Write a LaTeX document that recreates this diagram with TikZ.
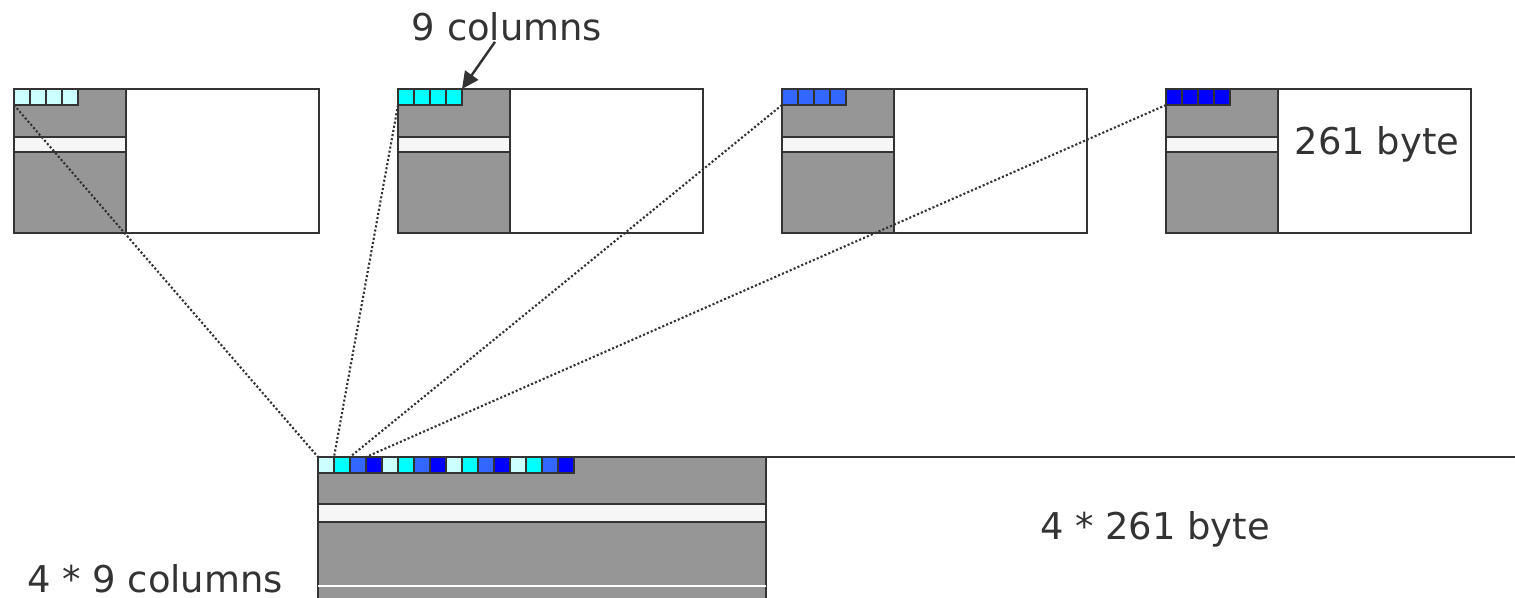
\documentclass[tikz,border=0pt]{standalone}
\usepackage{fontspec}
\setmainfont{DejaVu Sans}
\usetikzlibrary{positioning, arrows.meta}
\definecolor{lineGray}{RGB}{51, 51, 51}
\definecolor{keyGray}{RGB}{150, 150, 150}
\definecolor{stripeGray}{RGB}{246, 246, 246}
\definecolor{colA}{RGB}{204, 255, 255}
\definecolor{colB}{RGB}{0, 255, 255}
\definecolor{colC}{RGB}{51, 102, 255}
\definecolor{colD}{RGB}{0, 0, 255}

\begin{document}
\begin{tikzpicture}[
    x=0.02cm, y=-0.02cm,
    key/.style={rectangle, draw=lineGray, line width=1.4pt, fill=keyGray, minimum width=2.24cm, minimum height=2.88cm, inner sep=0pt, outer sep=0pt, anchor=north west},
    payload/.style={rectangle, draw=lineGray, line width=1.4pt, fill=white, minimum width=3.86cm, minimum height=2.88cm, inner sep=0pt, outer sep=0pt, anchor=north west},
    stripe/.style={rectangle, draw=lineGray, line width=1.4pt, fill=stripeGray, minimum width=2.24cm, minimum height=0.3cm, inner sep=0pt, outer sep=0pt, anchor=north west},
    cell/.style={rectangle, draw=lineGray, line width=1.4pt, minimum size=0.32cm, inner sep=0pt, outer sep=0pt, anchor=north west},
    txt/.style={font=\fontsize{21}{25}\selectfont, text=lineGray, inner sep=0pt, anchor=base},
    zoomline/.style={draw=lineGray, line width=1.2pt, dash pattern=on 1.2pt off 1.2pt},
    arrow/.style={draw=lineGray, line width=1.4pt, -{Triangle[length=0.34cm, width=0.32cm]}}
]
    \useasboundingbox (0,0) rectangle (1515,598);

    % four single tables
    \foreach \i/\x/\c in {1/14/colA, 2/398/colB, 3/782/colC, 4/1166/colD} {
        \node[key] (key\i) at (\x,89) {};
        \node[payload] (data\i) at (key\i.north east) {};
        \node[stripe] (strip\i) at (\x,137) {};
        \foreach \j in {1,...,4}
            \node[cell, fill=\c] (t\i\j) at (\x+16*\j-16,89) {};
    }
    \node[txt] (cols) at (507,41) {9 columns};
    \node[txt] (bytes) at (1377,154) {261 byte};

    % merged table
    \node[key, minimum width=8.96cm, minimum height=3.4cm] (bigkey) at (318,457) {};
    \node[payload, minimum width=15.4cm, minimum height=3.4cm] (bigdata) at (bigkey.north east) {};
    \node[stripe, minimum width=8.96cm, minimum height=0.36cm] (bigstrip) at (318,504) {};
    \draw[white, line width=0.7pt] (bigkey.west |- 0,586) -- (bigdata.west |- 0,586);
    \foreach \r in {0,...,3}
        \foreach \i/\c in {1/colA, 2/colB, 3/colC, 4/colD}
            \node[cell, fill=\c] (b\r\i) at (318+64*\r+16*\i-16,457) {};
    \node[txt] (bigbytes) at (1155,539) {4 * 261 byte};
    \node[txt] (bigcols) at (155,592) {4 * 9 columns};

    % connectors
    \foreach \i in {1,...,4}
        \draw[zoomline] (t\i1.south west) -- (b0\i.north west);
    \draw[arrow] ([xshift=-0.24cm]cols.south) -- (t24.north east);
\end{tikzpicture}
\end{document}
